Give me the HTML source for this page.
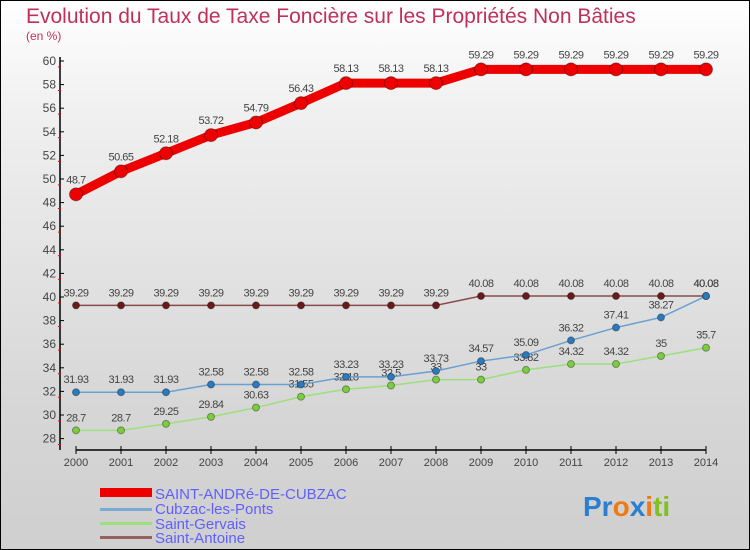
<!DOCTYPE html>
<html><head><meta charset="utf-8"><style>
body{margin:0}
#wrap{width:750px;height:550px;position:relative;box-sizing:border-box;border:1px solid #000;background:linear-gradient(#fff,#f0f0f0 20%,#d6d6d6 75%,#cfcfcf);font-family:"Liberation Sans",sans-serif;overflow:hidden}
svg text{font-family:"Liberation Sans",sans-serif}
</style></head><body>
<div id="wrap">
<svg id="svg" width="750" height="550" style="position:absolute;left:-1px;top:-1px">
<text x="26" y="23" font-size="21" fill="#c0305a">Evolution du Taux de Taxe Foncière sur les Propriétés Non Bâties</text>
<text x="26" y="40" font-size="12" fill="#c0305a">(en %)</text>
<g id="axes"></g><g id="series"></g>
<g>
<rect x="100" y="488" width="52" height="9" fill="#e00"/>
<text x="155" y="499" font-size="15" fill="#6060ff">SAINT-ANDRé-DE-CUBZAC</text>
<rect x="100" y="508" width="52" height="3" fill="#7aaad0"/>
<text x="155" y="514" font-size="15" fill="#6060ff">Cubzac-les-Ponts</text>
<rect x="100" y="522" width="52" height="3" fill="#9be07a"/>
<text x="155" y="529" font-size="15" fill="#6060ff">Saint-Gervais</text>
<rect x="100" y="536" width="52" height="3" fill="#946060"/>
<text x="155" y="543" font-size="15" fill="#6060ff">Saint-Antoine</text>
</g>
<text x="583" y="516" font-size="28" font-weight="bold"><tspan fill="#2a7fd0">Pr</tspan><tspan fill="#f07a10">o</tspan><tspan fill="#2a7fd0">x</tspan><tspan fill="#f07a10">i</tspan><tspan fill="#80c020">ti</tspan></text>
</svg>
</div>
<script>
const years=[2000,2001,2002,2003,2004,2005,2006,2007,2008,2009,2010,2011,2012,2013,2014];
const yTicks=[28,30,32,34,36,38,40,42,44,46,48,50,52,54,56,58,60];
const redVals=[48.7,50.65,52.18,53.72,54.79,56.43,58.13,58.13,58.13,59.29,59.29,59.29,59.29,59.29,59.29];
const blueVals=[31.93,31.93,31.93,32.58,32.58,32.58,33.23,33.23,33.73,34.57,35.09,36.32,37.41,38.27,40.08];
const greenVals=[28.7,28.7,29.25,29.84,30.63,31.55,32.18,32.5,33,33,33.82,34.32,34.32,35,35.7];
const brownVals=[39.29,39.29,39.29,39.29,39.29,39.29,39.29,39.29,39.29,40.08,40.08,40.08,40.08,40.08,40.08];
const NS="http://www.w3.org/2000/svg";
function xS(i){return 76+i*45;}
function yS(v){return 61+(60-v)*11.8;}
function mk(t,a,p){const e=document.createElementNS(NS,t);for(const k in a)e.setAttribute(k,a[k]);p.appendChild(e);return e;}
const ax=document.getElementById('axes');
const yl=mk('line',{x1:60,y1:57,x2:60,y2:450,stroke:'#000','stroke-width':1.5},ax);


const xl=mk('line',{x1:76,y1:450,x2:706,y2:450,stroke:'#000','stroke-width':1.5},ax);


yTicks.forEach(v=>{const y=yS(v);
mk('line',{x1:60,y1:y,x2:64,y2:y,stroke:'#000'},ax);
mk('line',{x1:58,y1:y+5.9,x2:61,y2:y+5.9,stroke:'#e00'},ax);
const t=mk('text',{x:56,y:y+4,'font-size':12,fill:'#444','text-anchor':'end'},ax);t.textContent=v;

});
years.forEach((yr,i)=>{const x=xS(i);
mk('line',{x1:x,y1:446,x2:x,y2:454,stroke:'#000'},ax);
const t=mk('text',{x:x,y:466,'font-size':11,fill:'#444','text-anchor':'middle'},ax);t.textContent=yr;

});
const sg=document.getElementById('series');
function series(vals,col,dot,w,r,name){
const g=mk('g',{},sg);


mk('polyline',{points:vals.map((v,i)=>xS(i)+','+yS(v)).join(' '),fill:'none',stroke:col,'stroke-width':w},g);
vals.forEach((v,i)=>{const c=mk('circle',{cx:xS(i),cy:yS(v),r:r,fill:dot,stroke:'rgba(0,0,0,0.35)'},g);


const t=mk('text',{x:xS(i),y:yS(v)-9-(r>5?2:0),'font-size':11,fill:'#444','text-anchor':'middle','letter-spacing':'-0.5'},g);t.textContent=v;

});}
series(brownVals,'#8a4a4a','#6a1a1a',1.5,3.5,'series-saint-antoine');
series(greenVals,'#9be07a','#7ccc40',1.5,3.5,'series-saint-gervais');
series(blueVals,'#6aa0d0','#2a7ac0',1.5,3.5,'series-cubzac');
series(redVals,'#e00','#e00',9,6.5,'series-saint-andre');
</script>
</body></html>
